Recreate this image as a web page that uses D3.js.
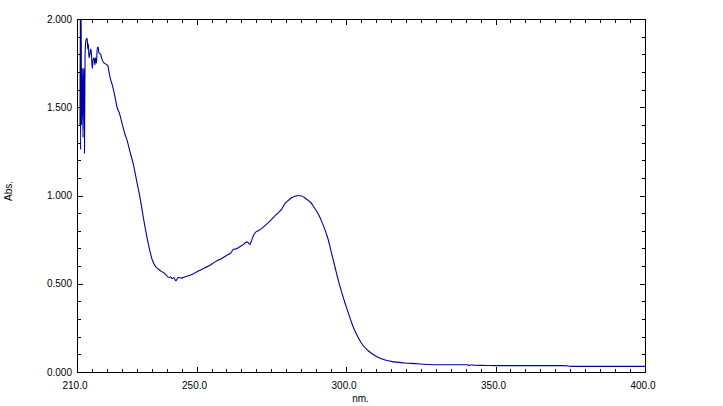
<!DOCTYPE html>
<html>
<head>
<meta charset="utf-8">
<script src="https://cdn.jsdelivr.net/npm/d3@7"></script>
<style>
    body { margin: 0; background: #fff; }
    text { font-family: "Liberation Sans", Arial, sans-serif; font-size: 10px; fill: #000; }
    .axis path { display: none; }
    .axis line { stroke: #000; }
</style>
</head>
<body>
<div id="chart"></div>
<script>
// spectrum (nm / Abs.)
const wavelength = [
    211.0, 211.1, 211.2, 211.4, 211.5, 211.8, 212.0, 212.2, 212.4, 212.5,
    212.7, 213.0, 213.4, 213.6, 213.8, 214.0, 214.3, 214.6, 214.8, 215.1,
    215.4, 215.7, 216.0, 216.2, 216.5, 216.8, 217.1, 217.3, 217.9, 218.4,
    219.1, 220.1, 220.4, 220.8, 221.2, 221.9, 222.7, 223.4, 224.3, 225.2,
    226.0, 226.8, 227.7, 228.8, 230.1, 231.2, 232.1, 232.9, 234.0, 235.1,
    236.2, 237.3, 238.2, 239.0, 239.8, 240.7, 241.3, 241.8, 242.4, 243.1,
    243.6, 244.0, 245.0, 245.7, 247.3, 249.6, 251.8, 254.0, 256.2, 258.4,
    260.7, 261.5, 262.3, 263.2, 264.0, 265.0, 265.7, 266.8, 267.4, 267.9,
    268.2, 268.7, 269.6, 270.6, 271.8, 274.0, 276.2, 277.3, 278.4, 279.6,
    280.7, 281.8, 282.9, 284.0, 285.1, 286.2, 287.3, 288.4, 289.2, 290.1,
    291.0, 291.8, 292.9, 294.0, 295.1, 296.2, 297.3, 298.4, 299.6, 300.7,
    301.8, 302.9, 304.0, 305.7, 307.3, 309.6, 311.8, 315.1, 319.6, 324.0,
    326.2, 330.0, 340.7, 341.0, 341.5, 342.5, 343.0, 346.8, 350.0, 372.9,
    373.2, 373.6, 375.1, 400.0
];
const absorbance = [
    1.40, 2.05, 1.26, 2.05, 1.40, 1.72, 1.33, 1.72, 1.70, 1.24,
    1.80, 1.88, 1.89, 1.83, 1.86, 1.78, 1.80, 1.83, 1.81, 1.72,
    1.77, 1.78, 1.74, 1.78, 1.75, 1.84, 1.84, 1.81, 1.80, 1.77,
    1.75, 1.74, 1.73, 1.69, 1.66, 1.62, 1.56, 1.50, 1.46, 1.40,
    1.35, 1.31, 1.25, 1.18, 1.07, 0.977, 0.884, 0.808, 0.714, 0.639,
    0.600, 0.582, 0.570, 0.563, 0.550, 0.535, 0.540, 0.528, 0.535, 0.517,
    0.530, 0.535, 0.532, 0.537, 0.545, 0.563, 0.582, 0.600, 0.624, 0.643,
    0.667, 0.675, 0.695, 0.697, 0.704, 0.715, 0.723, 0.737, 0.730, 0.723,
    0.735, 0.760, 0.789, 0.800, 0.814, 0.846, 0.884, 0.902, 0.921, 0.955,
    0.972, 0.987, 0.996, 1.000, 0.997, 0.987, 0.972, 0.957, 0.935, 0.912,
    0.885, 0.855, 0.808, 0.752, 0.677, 0.602, 0.526, 0.460, 0.394, 0.338,
    0.282, 0.235, 0.197, 0.150, 0.122, 0.094, 0.075, 0.060, 0.051, 0.047,
    0.044, 0.041, 0.041, 0.036, 0.040, 0.040, 0.038, 0.037, 0.036, 0.036,
    0.033, 0.036, 0.032, 0.032
];
const xTickLabels = [210, 250, 300, 350, 400];
const yTickLabels = [0, 0.5, 1, 1.5, 2];
const xMinorStep = 5;
const yMinorStep = 0.1;

const data = wavelength.map((k, i) => ({ k: k, v: absorbance[i] }));

let cWidth = 723,
    cHeight = 406;

let svg = d3.select('#chart').append('svg')
    .attr('width', cWidth)
    .attr('height', cHeight);

let x = d3.scaleLinear().domain([210, 400]).range([77, 645]),
    y = d3.scaleLinear().domain([0, 2]).range([372, 19]);

let xMinor = d3.range(210 + xMinorStep, 400, xMinorStep).filter(d => d % 50 !== 0),
    xMajor = [250, 300, 350],
    yMinor = d3.range(1, 20).map(d => d * yMinorStep).filter((d, i) => (i + 1) % 5 !== 0),
    yMajor = [0.5, 1, 1.5];

// frame
svg.append('rect')
    .attr('x', x(210) + 0.5)
    .attr('y', y(2) + 0.5)
    .attr('width', x(400) - x(210))
    .attr('height', y(0) - y(2))
    .attr('fill', 'none')
    .attr('stroke', '#000')
    .attr('shape-rendering', 'crispEdges');

// inside ticks on all four sides
function ticks(axisFn, vals, size, transform) {
    svg.append('g')
        .attr('class', 'axis')
        .attr('transform', transform)
        .attr('shape-rendering', 'crispEdges')
        .call(axisFn.tickValues(vals).tickSize(size).tickFormat(''));
}
ticks(d3.axisBottom(x), xMinor, -3, `translate(0,${y(0)})`);
ticks(d3.axisBottom(x), xMajor, -5, `translate(0,${y(0)})`);
ticks(d3.axisTop(x), xMinor, -3, `translate(0,${y(2) + 1})`);
ticks(d3.axisTop(x), xMajor, -5, `translate(0,${y(2) + 1})`);
ticks(d3.axisLeft(y), yMinor, -3, `translate(${x(210) + 1},0)`);
ticks(d3.axisLeft(y), yMajor, -5, `translate(${x(210) + 1},0)`);
ticks(d3.axisRight(y), yMinor, -3, `translate(${x(400)},0)`);
ticks(d3.axisRight(y), yMajor, -5, `translate(${x(400)},0)`);

// tick labels
svg.append('g')
    .attr('class', 'axis')
    .attr('transform', `translate(0,${y(0)})`)
    .call(d3.axisBottom(x).tickValues(xTickLabels).tickSize(0).tickPadding(10)
        .tickFormat(d3.format('.1f')))
    .selectAll('text')
    .attr('dx', -2.5)
    .attr('fill', '#000');

svg.append('g')
    .attr('class', 'axis')
    .attr('transform', `translate(${x(210)},0)`)
    .call(d3.axisLeft(y).tickValues(yTickLabels).tickSize(0).tickPadding(5)
        .tickFormat(d3.format('.3f')))
    .selectAll('text')
    .attr('fill', '#000');

// axis titles
svg.append('text')
    .attr('x', 360.5)
    .attr('y', 402)
    .style('text-anchor', 'middle')
    .text('nm.');

svg.append('text')
    .attr('transform', 'translate(11.5,191) rotate(-90)')
    .style('text-anchor', 'middle')
    .text('Abs.');

// spectrum
svg.append('defs').append('clipPath')
    .attr('id', 'clip')
    .append('rect')
    .attr('x', x(210) + 1)
    .attr('y', y(2) + 1)
    .attr('width', x(400) - x(210) - 1)
    .attr('height', y(0) - y(2) - 1);

let line = d3.line()
    .curve(d3.curveMonotoneX)
    .x(d => x(d.k))
    .y(d => y(d.v));

svg.append('path')
    .datum(data)
    .attr('clip-path', 'url(#clip)')
    .attr('fill', 'none')
    .attr('stroke', '#0000a0')
    .attr('stroke-width', 1.1)
    .attr('d', line);
</script>
</body>
</html>
